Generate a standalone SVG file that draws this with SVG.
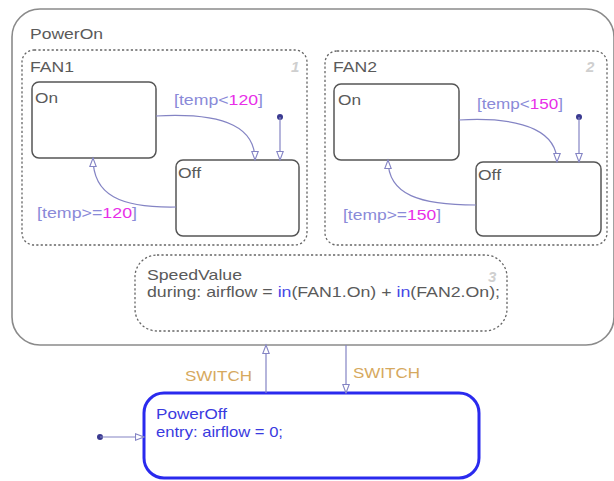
<svg xmlns="http://www.w3.org/2000/svg" width="614" height="481" viewBox="0 0 614 481">
<style>
text{font-family:"Liberation Sans",Arial,sans-serif;font-size:15px}
.lbl{fill:#5a5a5a}
.outer{fill:#fff;stroke:#8a8a8a;stroke-width:1.6}
.par{fill:none;stroke:#666;stroke-width:1.3;stroke-dasharray:2.2,2.2}
.st{fill:#fff;stroke:#555;stroke-width:1.5}
.tr{fill:none;stroke:#8484c4;stroke-width:1.2}
.g{fill:#8a8ad8}
.n{fill:#e82ee8}
.sw{fill:#d6a95e}
.kw{fill:#4646e6}
.num{fill:#cfcfcf;font-weight:bold;font-style:italic}
.po{fill:#fff;stroke:#2a2aee;stroke-width:3}
.pot{fill:#3a3ae0}
</style>
<defs>
<marker id="ah" markerUnits="userSpaceOnUse" markerWidth="12" markerHeight="10" refX="9" refY="4" orient="auto">
<path d="M0.5,0.8 L9,4 L0.5,7.2 Z" fill="#fff" stroke="#8484c4" stroke-width="1.1"/>
</marker>
</defs>

<g id="PowerOn">
<rect class="outer" x="12" y="9" width="602" height="336" rx="28"/>
<text class="lbl" x="30" y="39" textLength="73" lengthAdjust="spacingAndGlyphs">PowerOn</text>
</g>

<g id="FAN1">
<rect class="par" x="22" y="50" width="285" height="195" rx="12"/>
<text class="lbl" x="30" y="72" textLength="44" lengthAdjust="spacingAndGlyphs">FAN1</text>
<text class="num" x="291" y="72">1</text>
</g>
<g id="FAN1_On">
<rect class="st" x="32" y="82" width="124" height="76" rx="7"/>
<text class="lbl" x="35" y="103" textLength="23" lengthAdjust="spacingAndGlyphs">On</text>
</g>
<g id="FAN1_Off">
<rect class="st" x="176" y="160" width="123" height="76" rx="7"/>
<text class="lbl" x="178" y="178" textLength="23" lengthAdjust="spacingAndGlyphs">Off</text>
</g>

<g id="FAN2">
<rect class="par" x="325" y="51" width="282" height="194" rx="12"/>
<text class="lbl" x="333" y="72" textLength="44" lengthAdjust="spacingAndGlyphs">FAN2</text>
<text class="num" x="586" y="72">2</text>
</g>
<g id="FAN2_On">
<rect class="st" x="334" y="84" width="125" height="76" rx="7"/>
<text class="lbl" x="338" y="105" textLength="23" lengthAdjust="spacingAndGlyphs">On</text>
</g>
<g id="FAN2_Off">
<rect class="st" x="476" y="162" width="125" height="74" rx="7"/>
<text class="lbl" x="478" y="180" textLength="23" lengthAdjust="spacingAndGlyphs">Off</text>
</g>

<g id="SpeedValue">
<rect class="par" x="135" y="255" width="372" height="76" rx="22"/>
<text class="lbl" x="147" y="280" textLength="95" lengthAdjust="spacingAndGlyphs">SpeedValue</text>
<text class="lbl" x="147" y="297" textLength="353" lengthAdjust="spacingAndGlyphs">during: airflow = <tspan class="kw">in</tspan>(FAN1.On) + <tspan class="kw">in</tspan>(FAN2.On);</text>
<text class="num" x="488" y="282">3</text>
</g>

<g id="PowerOff">
<rect class="po" x="144" y="393" width="335" height="85" rx="20"/>
<text class="pot" x="156" y="419" textLength="71" lengthAdjust="spacingAndGlyphs">PowerOff</text>
<text class="pot" x="156" y="437" textLength="127" lengthAdjust="spacingAndGlyphs">entry: airflow = 0;</text>
</g>

<g id="connectors">
<path class="tr" d="M156,116 C230,112 255,130 255,160" marker-end="url(#ah)"/>
<circle cx="280" cy="117" r="3" fill="#3a3a90"/>
<path class="tr" d="M280,117 L280,160" marker-end="url(#ah)"/>
<path class="tr" d="M176,207 C120,208 93,195 93,158" marker-end="url(#ah)"/>
<text x="174" y="105" textLength="89" lengthAdjust="spacingAndGlyphs"><tspan class="g">[temp&lt;</tspan><tspan class="n">120</tspan><tspan class="g">]</tspan></text>
<text x="37" y="218" textLength="100" lengthAdjust="spacingAndGlyphs"><tspan class="g">[temp&gt;=</tspan><tspan class="n">120</tspan><tspan class="g">]</tspan></text>

<path class="tr" d="M459,120 C530,116 557,135 557,162" marker-end="url(#ah)"/>
<circle cx="579" cy="117" r="3" fill="#3a3a90"/>
<path class="tr" d="M579,117 L579,162" marker-end="url(#ah)"/>
<path class="tr" d="M476,205 C420,205 388,195 388,160" marker-end="url(#ah)"/>
<text x="477" y="109" textLength="86" lengthAdjust="spacingAndGlyphs"><tspan class="g">[temp&lt;</tspan><tspan class="n">150</tspan><tspan class="g">]</tspan></text>
<text x="343" y="220" textLength="98" lengthAdjust="spacingAndGlyphs"><tspan class="g">[temp&gt;=</tspan><tspan class="n">150</tspan><tspan class="g">]</tspan></text>

<path class="tr" d="M266,393 L266,345" marker-end="url(#ah)"/>
<path class="tr" d="M346,345 L346,393" marker-end="url(#ah)"/>
<text class="sw" x="185" y="381" textLength="67" lengthAdjust="spacingAndGlyphs">SWITCH</text>
<text class="sw" x="353" y="378" textLength="67" lengthAdjust="spacingAndGlyphs">SWITCH</text>

<circle cx="100" cy="437" r="3" fill="#3a3a90"/>
<path class="tr" d="M100,437 L144,437" marker-end="url(#ah)"/>
</g>
</svg>
